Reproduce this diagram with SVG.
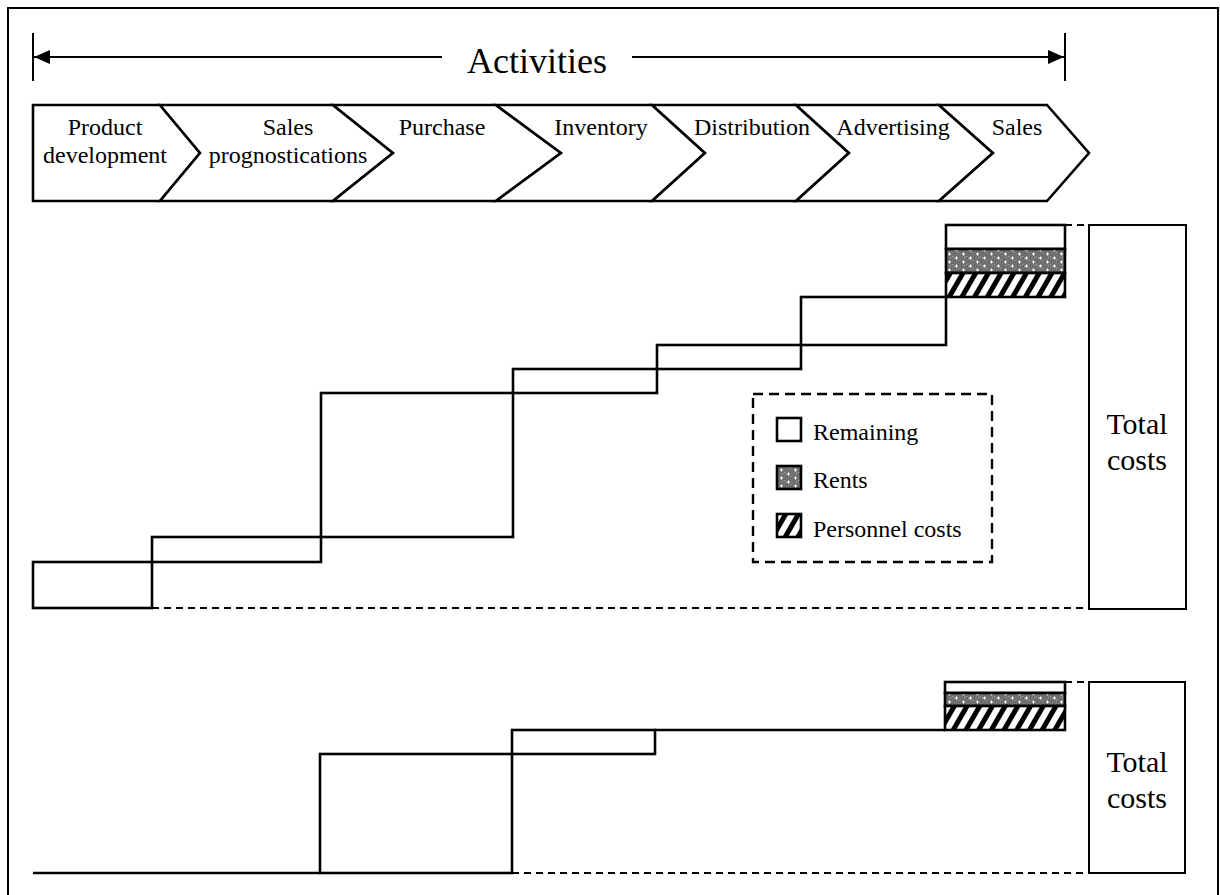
<svg xmlns="http://www.w3.org/2000/svg" width="1220" height="895" viewBox="0 0 1220 895">
  <style>
    text { font-family: "Liberation Serif", "Times New Roman", serif; fill: #000; }
    .lbl { font-size: 24px; text-anchor: middle; }
    .title { font-size: 36px; text-anchor: middle; }
    .total { font-size: 30px; text-anchor: middle; }
    .leg { font-size: 24px; }
    .shape { fill: #fff; stroke: #000; stroke-width: 2.6; stroke-linejoin: miter; }
    .step { fill: none; stroke: #000; stroke-width: 2.6; }
    .thin { fill: #fff; stroke: #000; stroke-width: 2; }
    .dash { fill: none; stroke: #000; stroke-width: 2.2; stroke-dasharray: 7 5; }
    .legbox { fill: none; stroke: #000; stroke-width: 2.4; stroke-dasharray: 10 6; }
    .arrow { stroke: #000; stroke-width: 2; fill: none; }
    .rents { fill: url(#rents); }
    .hatch { fill: url(#hatch); }
  </style>
  <defs>
    <!-- dotted grey fill for rents -->
    <pattern id="rents" width="14" height="8" patternUnits="userSpaceOnUse">
      <rect width="14" height="8" fill="#707070"/>
      <rect x="0" y="0" width="1" height="1" fill="#a8a8a8"/>
      <rect x="2" y="2" width="1" height="1" fill="#a8a8a8"/>
      <rect x="6" y="4" width="1" height="1" fill="#a8a8a8"/>
      <rect x="12" y="1" width="1" height="1" fill="#a8a8a8"/>
      <path d="M3 2h3M4.5 0.5v3" stroke="#fff" stroke-width="1"/>
      <path d="M10 6h3M11.5 4.5v3" stroke="#fff" stroke-width="1"/>
    </pattern>
    <!-- diagonal hatching for personnel costs -->
    <pattern id="hatch" width="11" height="11" patternUnits="userSpaceOnUse" patternTransform="rotate(30)">
      <rect width="11" height="11" fill="#fff"/>
      <rect width="5" height="11" fill="#000"/>
    </pattern>
    <marker id="head" viewBox="0 0 16 14" refX="16" refY="7" markerWidth="16" markerHeight="14" markerUnits="userSpaceOnUse" orient="auto-start-reverse">
      <path d="M0 0L16 7L0 14Z" fill="#000"/>
    </marker>
  </defs>

  <rect x="0" y="0" width="1220" height="895" fill="#fff"/>
  <!-- frame -->
  <rect x="8" y="8" width="1210" height="900" fill="none" stroke="#000" stroke-width="2"/>

  <!-- activities span arrow -->
  <g id="activities">
    <line class="arrow" x1="33" y1="33" x2="33" y2="81"/>
    <line class="arrow" x1="1065" y1="33" x2="1065" y2="81"/>
    <line class="arrow" x1="442" y1="57" x2="34" y2="57" marker-end="url(#head)"/>
    <line class="arrow" x1="632" y1="57" x2="1064" y2="57" marker-end="url(#head)"/>
    <text class="title" x="537" y="73">Activities</text>
  </g>

  <!-- value chain -->
  <g id="act-product-development">
    <polygon class="shape" points="33,105 160,105 200,153 160,201 33,201"/>
    <text class="lbl" x="105" y="135">Product</text>
    <text class="lbl" x="105" y="163">development</text>
  </g>
  <g id="act-sales-prognostications">
    <polygon class="shape" points="160,105 333,105 393,153 333,201 160,201 200,153"/>
    <text class="lbl" x="288" y="135">Sales</text>
    <text class="lbl" x="288" y="163">prognostications</text>
  </g>
  <g id="act-purchase">
    <polygon class="shape" points="333,105 496,105 561,153 496,201 333,201 393,153"/>
    <text class="lbl" x="442" y="135">Purchase</text>
  </g>
  <g id="act-inventory">
    <polygon class="shape" points="496,105 652,105 705,153 652,201 496,201 561,153"/>
    <text class="lbl" x="601" y="135">Inventory</text>
  </g>
  <g id="act-distribution">
    <polygon class="shape" points="652,105 796,105 849,153 796,201 652,201 705,153"/>
    <text class="lbl" x="752" y="135">Distribution</text>
  </g>
  <g id="act-advertising">
    <polygon class="shape" points="796,105 939,105 993,153 939,201 796,201 849,153"/>
    <text class="lbl" x="893" y="135">Advertising</text>
  </g>
  <g id="act-sales">
    <polygon class="shape" points="939,105 1047,105 1089,153 1047,201 939,201 993,153"/>
    <text class="lbl" x="1017" y="135">Sales</text>
  </g>

  <!-- upper cost waterfall -->
  <g id="upper-guides">
    <line class="dash" x1="152" y1="608" x2="1089" y2="608"/>
    <line class="dash" x1="1065" y1="225" x2="1089" y2="225"/>
  </g>
  <g id="upper-steps">
    <rect class="step" x="33" y="562" width="119" height="46"/>
    <rect class="step" x="152" y="537" width="169" height="25"/>
    <rect class="step" x="321" y="393" width="192" height="144"/>
    <rect class="step" x="513" y="369" width="144" height="24"/>
    <rect class="step" x="657" y="345" width="144" height="24"/>
    <rect class="step" x="801" y="297" width="145" height="48"/>
  </g>
  <g id="upper-stack">
    <rect class="shape" x="946" y="225" width="119" height="24"/>
    <rect class="shape rents" x="946" y="249" width="119" height="24"/>
    <rect class="shape hatch" x="946" y="273" width="119" height="24"/>
  </g>
  <g id="upper-total">
    <rect class="thin" x="1089" y="225" width="97" height="384"/>
    <text class="total" x="1137" y="434">Total</text>
    <text class="total" x="1137" y="470">costs</text>
  </g>

  <!-- legend -->
  <g id="legend">
    <rect class="legbox" x="753" y="394" width="239" height="168"/>
    <rect class="shape" x="777" y="418" width="24" height="23"/>
    <text class="leg" x="813" y="440">Remaining</text>
    <rect class="shape rents" x="777" y="466" width="24" height="23"/>
    <text class="leg" x="813" y="488">Rents</text>
    <rect class="shape hatch" x="777" y="514" width="24" height="23"/>
    <text class="leg" x="813" y="537">Personnel costs</text>
  </g>

  <!-- lower cost waterfall -->
  <g id="lower-guides">
    <line class="dash" x1="512" y1="873" x2="1089" y2="873"/>
    <line class="dash" x1="1065" y1="682" x2="1089" y2="682"/>
  </g>
  <g id="lower-steps">
    <line class="step" x1="33" y1="873" x2="320" y2="873"/>
    <rect class="step" x="320" y="754" width="192" height="119"/>
    <rect class="step" x="512" y="730" width="143" height="24"/>
    <line class="step" x1="655" y1="730" x2="945" y2="730"/>
  </g>
  <g id="lower-stack">
    <rect class="shape" x="945" y="682" width="120" height="11"/>
    <rect class="shape rents" x="945" y="693" width="120" height="13"/>
    <rect class="shape hatch" x="945" y="706" width="120" height="24"/>
  </g>
  <g id="lower-total">
    <rect class="thin" x="1089" y="682" width="96" height="191"/>
    <text class="total" x="1137" y="772">Total</text>
    <text class="total" x="1137" y="808">costs</text>
  </g>
</svg>
